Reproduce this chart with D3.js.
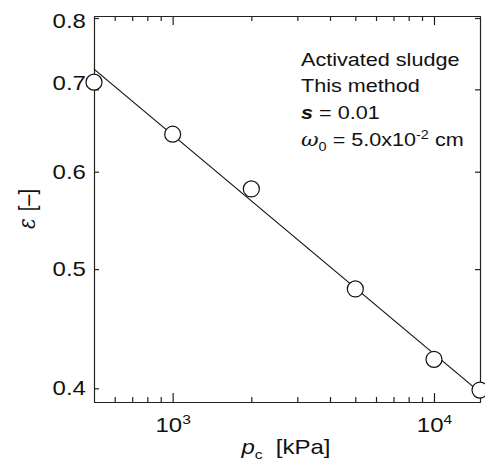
<!DOCTYPE html>
<html>
<head>
<meta charset="utf-8">
<script src="https://cdn.jsdelivr.net/npm/d3@7"></script>
<style>
    body { margin: 0; background: white; }
    svg { display: block; font-family: 'Liberation Sans', Arial, sans-serif; }
</style>
</head>
<body>
<svg width="485" height="468"></svg>
<script>
//  Data
const pressure = [500, 1000, 2000, 5000, 10000, 15000];          // p_c [kPa]
const porosity = [0.7095, 0.6436, 0.581, 0.4818, 0.4223, 0.3987];  // epsilon [-]

//  fitted line (end points)
const fitPressure = [500, 15000];
const fitPorosity = [0.727, 0.397];

//  ticks
const xMajorTicks = [1e3, 1e4];
const xMinorTicks = [600, 700, 800, 900, 2000, 3000, 4000, 5000, 6000, 7000, 8000, 9000];
const yTicks = [0.4, 0.5, 0.6, 0.7, 0.8];

const annotation = ['Activated sludge', 'This method'];

//  The original figure is stretched sideways a bit, so the text is too
const STRETCH = 'scale(1.2,1)';

const svg = d3.select('svg');

//  plot box (window.top is taken, hence the names)
const plotLeft = 94, plotRight = 480, plotTop = 16, plotBottom = 402;

const x = d3.scaleLog().domain([500, 15000]).range([plotLeft, plotRight]);
const y = d3.scaleLog().domain([0.3899, 0.803]).range([plotBottom, plotTop]);

const axes = svg.append('g').attr('id', 'axes');
const marks = svg.append('g').attr('id', 'marks');

//======================================================
//  Axes (all ticks point inward)
//======================================================
function styleAxis(g) {
    g.selectAll('path, line').attr('stroke', '#222').attr('stroke-width', 1.2);
    g.selectAll('text').attr('fill', '#111').attr('font-size', 20)
        .attr('font-family', "'Liberation Sans', Arial, sans-serif");
}

//  bottom, major with labels
const xBottom = axes.append('g')
    .attr('transform', `translate(0,${plotBottom})`)
    .call(d3.axisBottom(x).tickValues(xMajorTicks).tickSizeInner(-9).tickSizeOuter(0).tickPadding(16))
    .call(styleAxis);

xBottom.selectAll('.tick text').each(function (d) {
    const t = d3.select(this);
    t.text(null).attr('transform', STRETCH);
    t.append('tspan').text('10');
    t.append('tspan').attr('dy', -8).attr('font-size', 13).text(Math.round(Math.log10(d)));
});

axes.append('g')
    .attr('transform', `translate(0,${plotBottom})`)
    .call(d3.axisBottom(x).tickValues(xMinorTicks).tickFormat('').tickSizeInner(-5).tickSizeOuter(0))
    .call(styleAxis);

//  top
axes.append('g')
    .attr('transform', `translate(0,${plotTop})`)
    .call(d3.axisTop(x).tickValues(xMajorTicks).tickFormat('').tickSizeInner(-9).tickSizeOuter(0))
    .call(styleAxis);
axes.append('g')
    .attr('transform', `translate(0,${plotTop})`)
    .call(d3.axisTop(x).tickValues(xMinorTicks).tickFormat('').tickSizeInner(-5).tickSizeOuter(0))
    .call(styleAxis);

//  left, with labels. 0.7 and 0.8 labels were nudged in the original
const labelNudge = { 0.7: -6, 0.8: 3 };
const yLeft = axes.append('g')
    .attr('transform', `translate(${plotLeft},0)`)
    .call(d3.axisLeft(y).tickValues(yTicks).tickFormat(d3.format('.1f')).tickSizeInner(-5).tickSizeOuter(0).tickPadding(6.7))
    .call(styleAxis);
yLeft.selectAll('.tick text')
    .attr('transform', d => `translate(0,${labelNudge[d] || 0}) ${STRETCH}`);

//  right
axes.append('g')
    .attr('transform', `translate(${plotRight},0)`)
    .call(d3.axisRight(y).tickValues(yTicks).tickFormat('').tickSizeInner(-5).tickSizeOuter(0))
    .call(styleAxis);

//============ AXIS TITLES =========================
const xTitle = svg.append('text')
    .attr('transform', `translate(286,454) ${STRETCH}`)
    .attr('text-anchor', 'middle')
    .attr('font-size', 20)
    .attr('fill', '#111');
xTitle.append('tspan').attr('font-style', 'italic').text('p');
xTitle.append('tspan').attr('font-size', 13).attr('dy', 5).text('c');
xTitle.append('tspan').attr('dy', -5).attr('dx', 11).text('[kPa]');

const yTitle = svg.append('text')
    .attr('transform', `translate(35,209) ${STRETCH} rotate(-90)`)
    .attr('text-anchor', 'middle')
    .attr('font-size', 20)
    .attr('fill', '#111');
yTitle.append('tspan').attr('font-style', 'italic').attr('font-family', "'DejaVu Serif', serif").text('ε');
yTitle.append('tspan').attr('dx', 7).text('[–]');

//======================================================
//  Fitted line and data points
//======================================================
marks.append('path')
    .datum(d3.zip(fitPressure, fitPorosity))
    .attr('d', d3.line().x(d => x(d[0])).y(d => y(d[1])))
    .attr('fill', 'none')
    .attr('stroke', '#111')
    .attr('stroke-width', 1.2);

marks.selectAll('circle')
    .data(d3.zip(pressure, porosity))
    .join('circle')
    .attr('cx', d => x(d[0]))
    .attr('cy', d => y(d[1]))
    .attr('r', 8)
    .attr('fill', 'white')
    .attr('stroke', '#111')
    .attr('stroke-width', 1.2);

//======================================================
//  Annotation
//======================================================
const note = svg.append('g')
    .attr('transform', `translate(301,65.7) ${STRETCH}`)
    .attr('font-size', 18)
    .attr('fill', '#111');

annotation.forEach((line, i) => {
    note.append('text').attr('y', i * 26.7).text(line);
});

const sLine = note.append('text').attr('y', 2 * 26.7);
sLine.append('tspan').attr('font-style', 'italic').attr('font-weight', 'bold').text('s');
sLine.append('tspan').text(' = 0.01');

const wLine = note.append('text').attr('y', 3 * 26.7);
wLine.append('tspan').attr('font-style', 'italic').attr('font-family', "'DejaVu Serif', serif").text('ω');
wLine.append('tspan').attr('font-size', 12).attr('dy', 5).text('0');
wLine.append('tspan').attr('dy', -5).text(' = 5.0x10');
wLine.append('tspan').attr('font-size', 12).attr('dy', -7).text('-2');
wLine.append('tspan').attr('dy', 7).text(' cm');
</script>
</body>
</html>
